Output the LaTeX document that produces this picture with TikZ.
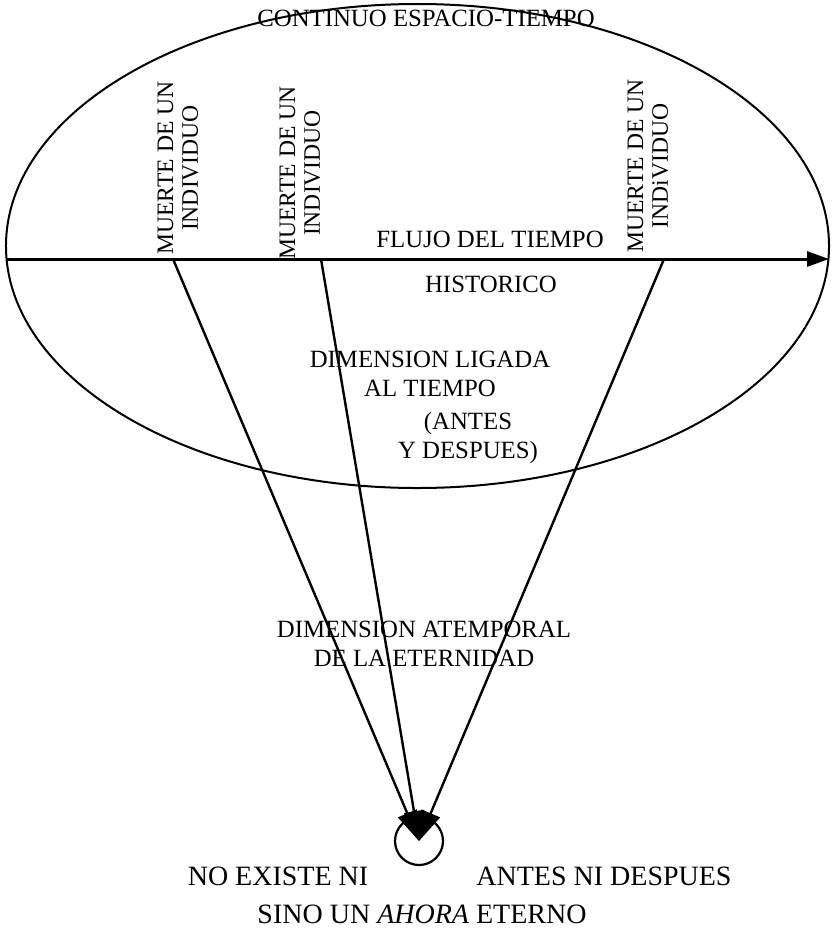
\documentclass[tikz,border=0pt]{standalone}
\usepackage{fontspec}
\setmainfont{Liberation Serif}
\usetikzlibrary{arrows.meta,shapes.geometric}

\begin{document}
\begin{tikzpicture}[x=0.5bp,y=-0.5bp,
        txt/.style={font=\fontsize{12.4bp}{14.2bp}\selectfont, align=center, inner sep=0pt},
        pie/.style={txt, font=\fontsize{14bp}{16bp}\selectfont},
        muerte/.style={txt, font=\fontsize{11.8bp}{12.4bp}\selectfont, rotate=90},
        rayo/.style={line width=1.2bp, -{Triangle[length=15bp,width=10bp]}}]
        \useasboundingbox (0,0) rectangle (834,931);
        \node[draw, ellipse, line width=1bp, inner sep=0pt, minimum width=411.5bp, minimum height=242bp] (continuo) at (417.5,246) {};
        \coordinate (pasado) at (6,259);
        \coordinate (futuro) at (829,259);
        \draw[line width=1.5bp, -{Triangle[length=11bp,width=7.5bp]}] (pasado) -- (futuro);
        \node[txt] (espacio) at (426,18.5) {CONTINUO ESPACIO-TIEMPO};
        \node[muerte] (muerte1) at (178,168) {MUERTE DE UN\\INDIVIDUO};
        \node[muerte] (muerte2) at (300,173) {MUERTE DE UN\\INDIVIDUO};
        \node[muerte] (muerte3) at (648,166) {MUERTE DE UN\\INDiVIDUO};
        \node[txt] (flujo) at (490,239) {FLUJO DEL TIEMPO};
        \node[txt] (historico) at (491,284) {HISTORICO};
        \node[txt] (ligada) at (430,374) {DIMENSION LIGADA\\AL TIEMPO};
        \node[txt] (antes) at (468,438) {(ANTES\\Y DESPUES)};
        \node[txt] (atemporal) at (424,644) {DIMENSION ATEMPORAL\\DE LA ETERNIDAD};
        \node[draw, circle, line width=1.1bp, inner sep=0pt, minimum size=24bp] (ahora) at (419,841) {};
        \coordinate (m1) at (173,259);
        \coordinate (m2) at (321,259);
        \coordinate (m3) at (664,259);
        \draw[rayo] (m1) -- (ahora.center);
        \draw[rayo] (m2) -- (ahora.center);
        \draw[rayo] (m3) -- (ahora.center);
        \node[pie] (noexiste) at (278,876) {NO EXISTE NI};
        \node[pie] (ninguno) at (604,876) {ANTES NI DESPUES};
        \node[pie] (sino) at (422,914) {SINO UN \textit{AHORA} ETERNO};
\end{tikzpicture}
\end{document}
